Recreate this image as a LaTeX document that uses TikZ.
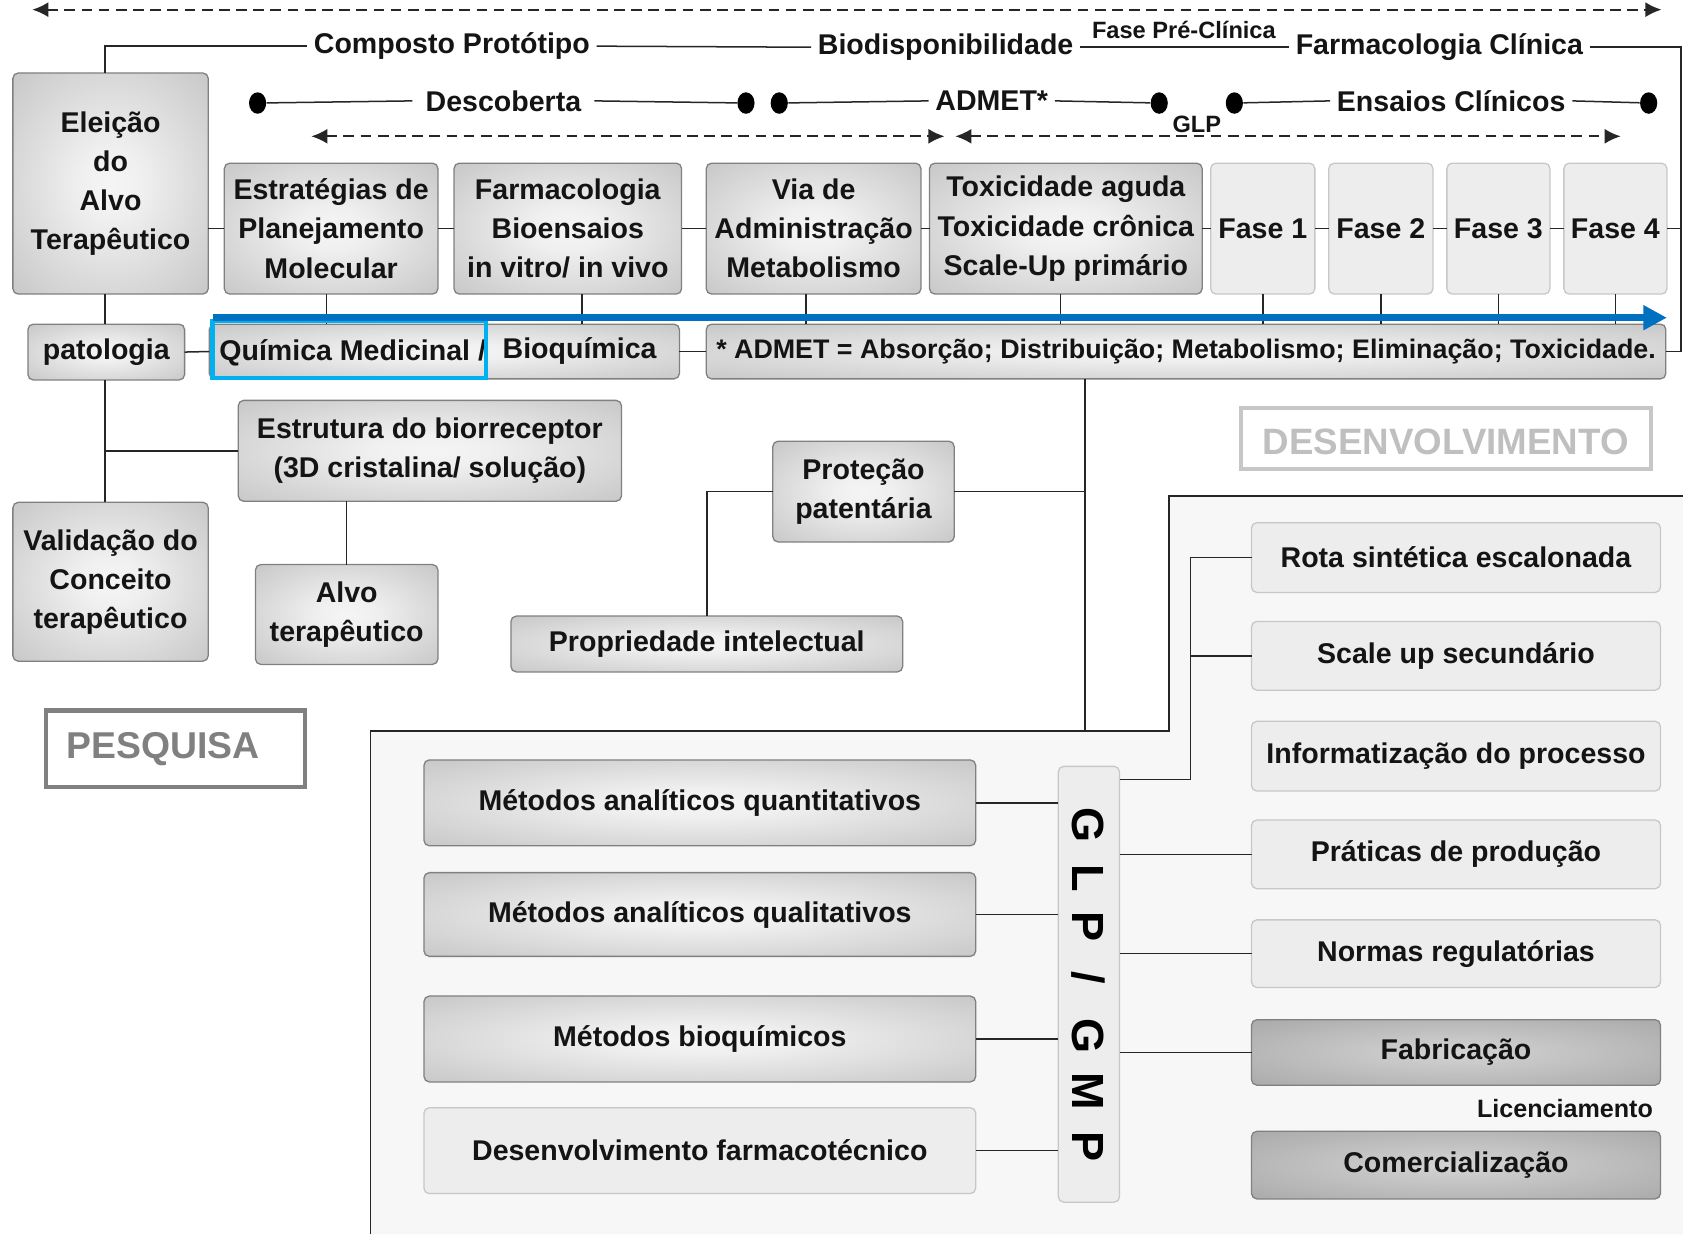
\documentclass[tikz,border=0pt]{standalone}
\usepackage{fontspec}
\setmainfont{Liberation Sans}
\usetikzlibrary{arrows.meta,shapes.geometric,calc}
\definecolor{bluea}{HTML}{0070C0}
\definecolor{cyanh}{HTML}{00B0F0}
\pgfdeclareradialshading{shA}{\pgfpoint{0bp}{0bp}}{rgb(0bp)=(0.96,0.96,0.96); rgb(8bp)=(0.94,0.94,0.94); rgb(50bp)=(0.70,0.70,0.70); rgb(72bp)=(0.64,0.64,0.64)}
\pgfdeclareradialshading{shB}{\pgfpoint{0bp}{0bp}}{rgb(0bp)=(0.83,0.83,0.83); rgb(50bp)=(0.60,0.60,0.60); rgb(72bp)=(0.56,0.56,0.56)}
\tikzset{
  txt/.style={font=\bfseries\fontsize{13.3}{18.2}\selectfont, text=black!92, align=center},
  sm/.style={font=\bfseries\fontsize{11}{13}\selectfont, text=black!92, inner sep=1pt},
  gbox/.style={txt, draw=black!50, line width=0.6pt, rounded corners=2.5pt, shade, shading=shA, inner sep=0pt, outer sep=0pt},
  dbox/.style={gbox, shading=shB},
  lbox/.style={txt, draw=black!22, line width=0.6pt, fill=black!7, rounded corners=2.5pt, inner sep=0pt, outer sep=0pt},
  conn/.style={draw=black!85, line width=0.7pt},
  lab/.style={txt, inner xsep=3pt, inner ysep=1pt},
  dotn/.style={ellipse, fill=black, minimum width=8pt, minimum height=10pt, inner sep=0pt},
  darr/.style={draw=black!85, line width=1pt, dash pattern=on 5pt off 3pt, {Latex[length=7.5pt,width=7pt]}-{Latex[length=7.5pt,width=7pt]}},
  glpl/.style={font=\bfseries\fontsize{21}{21}\selectfont, text=black, rotate=-90, inner sep=0pt},
  frameb/.style={inner sep=0pt, outer sep=0pt},
}
\newcommand\bx[7]{\node[#6, minimum width={(#4-#2)*0.5pt}, minimum height={(#5-#3)*0.5pt}] (#1) at ({(#2+#4)/2},{(#3+#5)/2}) {#7};}
\begin{document}
\begin{tikzpicture}[x=0.5pt,y=-0.5pt]
\useasboundingbox (0,0) rectangle (1568,1150);

% lower panel background
\fill[black!3] (345,1150) -- (345,681) -- (1089,681) -- (1089,462) -- (1568,462) -- (1568,1150) -- cycle;
\draw[conn] (345,1150) -- (345,681) -- (1089,681) -- (1089,462) -- (1568,462);

% top dashed arrows
\coordinate (ta1) at (30,9); \coordinate (ta2) at (1548,9);
\draw[darr] (ta1) -- (ta2);
\coordinate (da1) at (290,127); \coordinate (da2) at (880,127);
\coordinate (da3) at (890,127); \coordinate (da4) at (1510,127);
\draw[darr] (da1) -- (da2);
\draw[darr] (da3) -- (da4);

% title line
\node[lab] (comp) at (421,43) {Composto Protótipo};
\node[lab] (biod) at (881,44) {Biodisponibilidade};
\node[lab] (farmc) at (1341,44) {Farmacologia Clínica};
\node[sm] (fpc) at (1103,28) {Fase Pré-Clínica};

% dot row
\node[dotn] (d1) at (240,96) {};
\node[dotn] (d2) at (695,96) {};
\node[dotn] (d3) at (726,96) {};
\node[dotn] (d4) at (1080,96) {};
\node[dotn] (d5) at (1150,96) {};
\node[dotn] (d6) at (1536,96) {};
\node[lab, inner xsep=6pt] (desc) at (469,94) {Descoberta};
\node[lab] (adm) at (924,94) {ADMET*};
\node[lab] (ens) at (1352,94) {Ensaios Clínicos};
\node[sm] (glps) at (1115,116) {GLP};
\draw[conn] (d1) -- (desc.west);
\draw[conn] (desc.east) -- (d2);
\draw[conn] (d3) -- (adm.west);
\draw[conn] (adm.east) -- (d4);
\draw[conn] (d5) -- (ens.west);
\draw[conn] (ens.east) -- (d6);

% top boxes
\bx{elei}{12}{68}{194}{274}{gbox}{Eleição\\do\\Alvo\\Terapêutico}
\bx{est}{209}{152}{408}{274}{gbox}{Estratégias de\\Planejamento\\Molecular}
\bx{farm}{423}{152}{635}{274}{gbox}{Farmacologia\\Bioensaios\\in vitro/ in vivo}
\bx{via}{658}{152}{858}{274}{gbox}{Via de\\Administração\\Metabolismo}
\bx{tox}{866}{152}{1120}{274}{gbox}{Toxicidade aguda\\Toxicidade crônica\\Scale-Up primário}
\bx{f1}{1128}{152}{1225}{274}{lbox}{Fase 1}
\bx{f2}{1238}{152}{1335}{274}{lbox}{Fase 2}
\bx{f3}{1348}{152}{1444}{274}{lbox}{Fase 3}
\bx{f4}{1457}{152}{1553}{274}{lbox}{Fase 4}

% second row
\bx{pato}{26}{302}{172}{354}{gbox}{patologia}
\bx{qm}{195}{302}{633}{353}{gbox}{}
\node[txt, anchor=west, inner sep=0pt] (qmt) at (204,329) {Química Medicinal /};
\node[txt, inner sep=0pt] (bioq) at (540,327) {Bioquímica};
\bx{admet}{658}{302}{1552}{353}{gbox, font=\bfseries\fontsize{12.5}{15}\selectfont}{* ADMET = Absorção; Distribuição; Metabolismo; Eliminação; Toxicidade.}

% connectors top
\coordinate (colx) at (98,0);
\coordinate (rc) at (1566,327.5);
\draw[conn] (colx |- elei.north) |- (comp.west);
\draw[conn] (comp.east) -- (biod.west);
\draw[conn] (biod.east) -- (farmc.west);
\draw[conn] (farmc.east) -| (rc) -- (admet.east);
\draw[conn] (f4.east) -- (f4.east -| rc);
\draw[conn] (elei.east |- est.west) -- (est.west);
\draw[conn] (est.east) -- (farm.west);
\draw[conn] (farm.east) -- (via.west);
\draw[conn] (via.east) -- (tox.west);
\draw[conn] (tox.east) -- (f1.west);
\draw[conn] (f1.east) -- (f2.west);
\draw[conn] (f2.east) -- (f3.west);
\draw[conn] (f3.east) -- (f4.west);
% ticks
\coordinate (t2) at ([xshift=-2.2pt]est.south);
\coordinate (t3) at ([xshift=6.5pt]farm.south);
\coordinate (t4) at ([xshift=-3.5pt]via.south);
\coordinate (t5) at ([xshift=-2.5pt]tox.south);
\draw[conn] (colx |- elei.south) -- (colx |- pato.north);
\draw[conn] (t2) -- (t2 |- qm.north);
\draw[conn] (t3) -- (t3 |- qm.north);
\draw[conn] (t4) -- (t4 |- admet.north);
\draw[conn] (t5) -- (t5 |- admet.north);
\draw[conn] (f1.south) -- (f1.south |- admet.north);
\draw[conn] (f2.south) -- (f2.south |- admet.north);
\draw[conn] (f3.south) -- (f3.south |- admet.north);
\draw[conn] (f4.south) -- (f4.south |- admet.north);
\draw[conn] (pato.east) -- (qm.west);
\draw[conn] (qm.east) -- (admet.west);

% highlight and blue arrow
\bx{hl}{198}{299}{453}{352}{draw=cyanh, line width=2pt, inner sep=0pt}{}
\coordinate (b1) at (198,296); \coordinate (b2) at (1553,296);
\draw[bluea, line width=3.5pt, -{Triangle[length=11pt,width=11pt]}] (b1) -- (b2);

% lower left
\bx{estr}{222}{373}{579}{467}{gbox}{Estrutura do biorreceptor\\(3D cristalina/ solução)}
\bx{alvo}{238}{526}{408}{619}{gbox}{Alvo\\terapêutico}
\bx{vali}{12}{468}{194}{616}{gbox}{Validação do\\Conceito\\terapêutico}
\draw[conn] (colx |- pato.south) -- (colx |- vali.north);
\draw[conn] (colx |- estr.west) -- (estr.west);
\draw[conn] (alvo.north) -- (alvo.north |- estr.south);
\bx{pesq}{43}{662}{284}{733}{frameb, draw=black!50, line width=2pt}{}
\node[font=\bfseries\fontsize{17.4}{20}\selectfont, text=black!50, inner sep=0pt] (pesqt) at (152,698) {PESQUISA};

% middle
\bx{prot}{720}{411}{889}{505}{gbox}{Proteção\\patentária}
\bx{prop}{476}{574}{841}{626}{gbox}{Propriedade intelectual}
\coordinate (pj) at (1011,681);
\draw[conn] (admet.south -| pj) -- (pj);
\draw[conn] (prot.east) -- (prot.east -| pj);
\draw[conn] (prop.north) |- (prot.west);
\bx{desv}{1156}{380}{1538}{437}{frameb, draw=black!22, line width=2pt}{}
\node[font=\bfseries\fontsize{17.1}{20}\selectfont, text=black!25, inner sep=0pt] (desvt) at (1347,412) {DESENVOLVIMENTO};

% lower panel boxes
\bx{mq}{395}{708}{909}{788}{gbox}{Métodos analíticos quantitativos}
\bx{ml}{395}{813}{909}{891}{gbox}{Métodos analíticos qualitativos}
\bx{mb}{395}{928}{909}{1008}{gbox}{Métodos bioquímicos}
\bx{df}{395}{1032}{909}{1112}{lbox}{Desenvolvimento farmacotécnico}
\bx{glp}{986}{714}{1043}{1120}{lbox}{}
\node[glpl] (g1) at (1014,769) {G};
\node[glpl] (g2) at (1014,818) {L};
\node[glpl] (g3) at (1014,863) {P};
\node[glpl] (g4) at (1014,911) {/};
\node[glpl] (g5) at (1014,965) {G};
\node[glpl] (g6) at (1014,1017) {M};
\node[glpl] (g7) at (1014,1068) {P};

\bx{rota}{1166}{487}{1547}{552}{lbox}{Rota sintética escalonada}
\bx{scal}{1166}{579}{1547}{643}{lbox}{Scale up secundário}
\bx{info}{1166}{672}{1547}{737}{lbox}{Informatização do processo}
\bx{prat}{1166}{764}{1547}{828}{lbox}{Práticas de produção}
\bx{norm}{1166}{857}{1547}{920}{lbox}{Normas regulatórias}
\bx{fab}{1166}{950}{1547}{1011}{dbox}{Fabricação}
\node[sm, font=\bfseries\fontsize{11.7}{13}\selectfont] (lic) at (1458,1033) {Licenciamento};
\bx{com}{1166}{1054}{1547}{1117}{dbox}{Comercialização}

\draw[conn] (mq.east) -- (mq.east -| glp.west);
\draw[conn] (ml.east) -- (ml.east -| glp.west);
\draw[conn] (mb.east) -- (mb.east -| glp.west);
\draw[conn] (df.east) -- (df.east -| glp.west);
\coordinate (vx) at (1109,726);
\draw[conn] (glp.east |- vx) -- (vx) |- (rota.west);
\draw[conn] (vx |- scal.west) -- (scal.west);
\draw[conn] (glp.east |- prat.west) -- (prat.west);
\draw[conn] (glp.east |- norm.west) -- (norm.west);
\draw[conn] (glp.east |- fab.west) -- (fab.west);
\end{tikzpicture}
\end{document}
